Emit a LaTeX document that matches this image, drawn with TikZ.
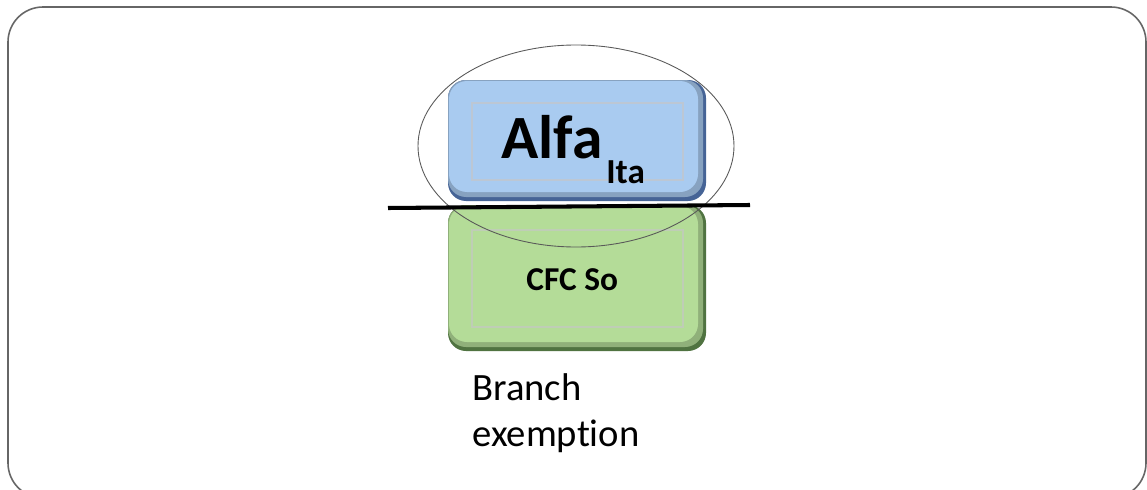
\documentclass[tikz,border=0pt]{standalone}
\usepackage{fontspec}
\setmainfont{Carlito}[RawFeature=-liga]
\usepackage{tikz}
\usetikzlibrary{positioning}

\definecolor{alfablue}{RGB}{169,203,240}
\definecolor{alfaedge}{RGB}{70,100,150}
\definecolor{cfcgreen}{RGB}{180,220,152}
\definecolor{cfcedge}{RGB}{80,115,65}

\tikzset{
	box/.style={rounded corners=0.36cm},
	innerbox/.style={draw=white!60!#1, line width=0.8pt},
}

\begin{document}
\begin{tikzpicture}[x=0.02cm, y=-0.02cm]
	
	\useasboundingbox (0,0) rectangle (1147,490);
	
	% Draw frame
	\draw[gray!80!black, line width=0.9pt, rounded corners=0.7cm] (8,7) rectangle (1146,498);
	
	% Draw Alfa box
	\fill[box, alfaedge] (448,80) rectangle (706,201);
	\fill[box, alfablue!80!black] (448,80) rectangle (703,197);
	\fill[box, alfablue] (449,81) rectangle (698,192);
	\draw[innerbox=alfablue!85!black] (472,103) rectangle (683,180);
	
	% Draw CFC box
	\fill[box, cfcedge] (448,205) rectangle (706,351);
	\fill[box, cfcgreen!80!black] (448,205) rectangle (703,347);
	\fill[box, cfcgreen] (449,206) rectangle (698,342);
	\draw[innerbox=cfcgreen!85!black] (472,230) rectangle (683,327);
	
	% Label boxes
	\node[anchor=base west, inner sep=0pt, font=\bfseries\fontsize{35}{42}\selectfont] (alfa) at (501,158) {Alfa};
	\node[anchor=base west, inner sep=0pt, font=\bfseries\fontsize{20}{24}\selectfont] (ita) at (606,183) {Ita};
	\node[anchor=base west, inner sep=0pt, font=\bfseries\fontsize{19}{23}\selectfont] (cfc) at (526,290) {CFC So};
	
	% Draw ellipse
	\draw[gray!70!black, line width=0.5pt] (576,146) ellipse [x radius=158, y radius=101];
	
	% Draw cut line
	\coordinate (cutL) at (388,208);
	\coordinate (cutR) at (750,205);
	\draw[line width=2.3pt] (cutL) -- (cutR);
	
	% Branch label
	\node[anchor=north west, inner sep=0pt, align=left, font=\fontsize{22}{26.6}\selectfont] (branch) at (472,373) {Branch\\exemption};
	
\end{tikzpicture}
\end{document}
